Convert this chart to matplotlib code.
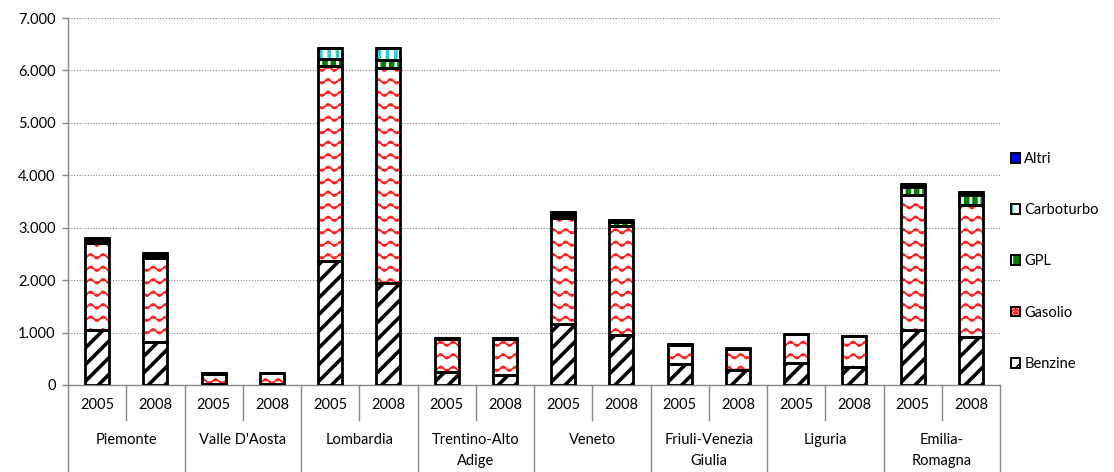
import warnings
import numpy as np
import matplotlib
matplotlib.use("Agg")
import matplotlib.pyplot as plt
import matplotlib.hatch as mhatch
import matplotlib.patches as mpatches
from matplotlib.path import Path
from matplotlib.legend_handler import HandlerTuple
from matplotlib.ticker import FuncFormatter

warnings.filterwarnings("ignore")

# data
regions = ['Piemonte', "Valle D'Aosta", 'Lombardia', 'Trentino-Alto\nAdige', 'Veneto',
           'Friuli-Venezia\nGiulia', 'Liguria', 'Emilia-\nRomagna']
years = ['2005', '2008']
benzine = [1040, 820, 25, 25, 2370, 1940, 240, 200, 1160, 960, 400, 290, 415, 340, 1050, 910]
gasolio = [1660, 1600, 190, 195, 3710, 4110, 640, 680, 2020, 2070, 370, 400, 550, 590, 2576, 2525]
gpl = [40, 40, 5, 5, 130, 140, 5, 5, 60, 80, 5, 5, 5, 5, 160, 190]
carboturbo = [55, 50, 5, 5, 210, 235, 5, 5, 55, 40, 5, 0, 0, 0, 50, 60]
altri = [5, 5, 0, 0, 5, 5, 5, 5, 5, 5, 5, 5, 5, 5, 5, 5]


# wavy hatch for Gasolio
class WaveHatch(mhatch.HatchPatternBase):
    def __init__(self, hatch, density):
        self.num_rows = 8 * hatch.count('w')
        self.num_pts = 65
        self.num_vertices = self.num_rows * self.num_pts

    def set_vertices_and_codes(self, vertices, codes):
        xs = np.linspace(0, 1, self.num_pts)
        for i in range(self.num_rows):
            sl = slice(i * self.num_pts, (i + 1) * self.num_pts)
            vertices[sl, 0] = xs
            vertices[sl, 1] = (i + 0.5) / self.num_rows + 0.024 * np.sin(2 * np.pi * 8 * xs)
            codes[sl] = Path.LINETO
            codes[i * self.num_pts] = Path.MOVETO


mhatch._hatch_types.append(WaveHatch)

plt.rcParams['font.family'] = ['Lato', 'DejaVu Sans']
plt.rcParams['font.size'] = 10.5

fig = plt.figure(figsize=(11.14, 4.72), dpi=100)
ax = fig.add_axes([68 / 1114, 1 - 385 / 472, 932 / 1114, 367 / 472])

x = np.arange(len(benzine))
w = 0.41
grey = '#868686'


def hatched(bottom, vals, face, hcolor, hatch, hlw):
    plt.rcParams['hatch.linewidth'] = hlw
    bars = ax.bar(x, vals, w, bottom=bottom, color=face, edgecolor=hcolor, hatch=hatch,
                  linewidth=0, zorder=2)
    for b in bars:
        if hasattr(b, 'set_hatch_linewidth'):
            b.set_hatch_linewidth(hlw)
    ax.bar(x, vals, w, bottom=bottom, facecolor='none', edgecolor='black', linewidth=2.0, zorder=3)


bot = np.zeros(len(x))
hatched(bot, benzine, 'white', 'black', '//', 2.6)
bot = bot + benzine
hatched(bot, gasolio, 'white', '#FF2020', 'w', 1.2)
bot = bot + gasolio
hatched(bot, gpl, '#008000', 'white', '||', 2.0)
bot = bot + gpl
hatched(bot, carboturbo, 'white', '#33CCCC', '||', 2.6)
bot = bot + carboturbo
hatched(bot, altri, '#0000FF', '#0000FF', None, 1.0)

ax.set_xlim(-0.5, len(x) - 0.5)
ax.set_ylim(0, 7000)
ax.set_yticks(np.arange(0, 7001, 1000))
ax.yaxis.set_major_formatter(FuncFormatter(lambda v, p: f'{int(v):,}'.replace(',', '.')))
ax.yaxis.grid(True, color=grey, linestyle=(0, (1, 1.5)), linewidth=0.8)
ax.set_axisbelow(True)
ax.set_xticks([])
for s in ['top', 'right']:
    ax.spines[s].set_visible(False)
for s in ['left', 'bottom']:
    ax.spines[s].set_color(grey)
    ax.spines[s].set_linewidth(1.0)
ax.tick_params(axis='y', colors=grey, labelcolor='black', length=4, width=1, pad=5)

# two-level category axis
tr = ax.get_xaxis_transform()
for i in range(len(x)):
    ax.text(i, -0.055, years[i % 2], transform=tr, ha='center', va='center')
    if i % 2 == 0:
        ax.plot([i + 0.5, i + 0.5], [0, -0.095], transform=tr, color=grey, lw=1, clip_on=False)
for j, r in enumerate(regions):
    ax.text(2 * j + 0.5, -0.131, r, transform=tr, ha='center', va='top', linespacing=1.6)
for j in range(len(regions) + 1):
    ax.plot([2 * j - 0.5] * 2, [0, -0.24], transform=tr, color=grey, lw=1, clip_on=False)

# legend
def lh(face, hcolor, hatch):
    return (mpatches.Patch(facecolor=face, edgecolor=hcolor, hatch=hatch, linewidth=0),
            mpatches.Patch(facecolor='none', edgecolor='black', linewidth=1.4))


handles = [lh('#0000FF', '#0000FF', None), lh('white', '#33CCCC', '||'), lh('#008000', 'white', '||'),
           lh('white', '#FF2020', 'wwww'), lh('white', 'black', '//')]
labels = ['Altri', 'Carboturbo', 'GPL', 'Gasolio', 'Benzine']
fig.legend(handles, labels, loc='center left', bbox_to_anchor=(1011 / 1114, 0.446),
           frameon=False, handlelength=0.65, handleheight=0.65, handletextpad=0.25,
           labelspacing=2.55, borderpad=0, borderaxespad=0,
           handler_map={tuple: HandlerTuple(ndivide=1, pad=0)})

fig.savefig('out.png', dpi=100)
